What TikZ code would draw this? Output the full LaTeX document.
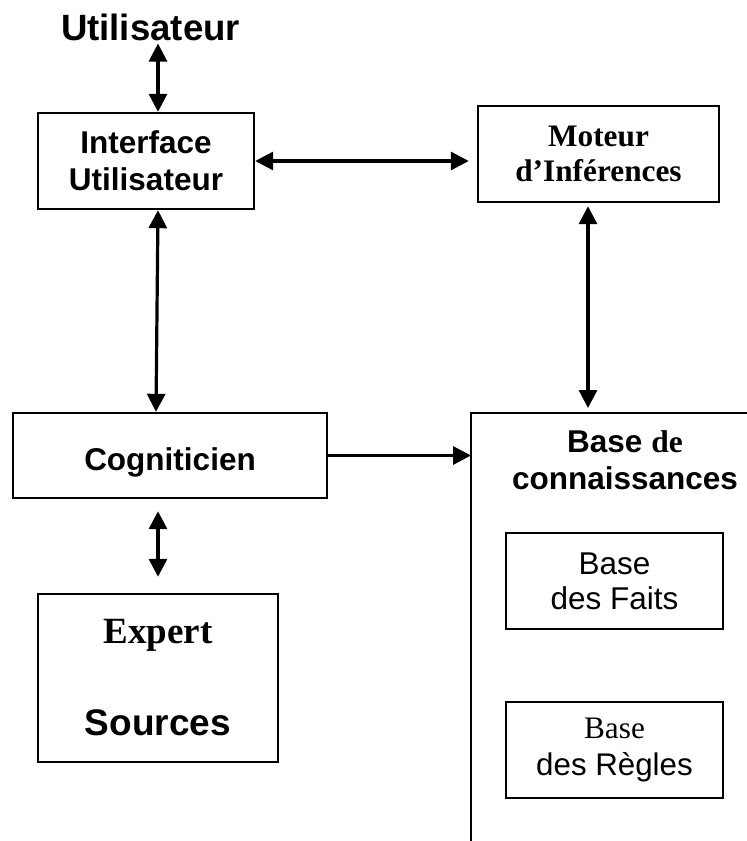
\documentclass[tikz,border=0pt]{standalone}
\usepackage{fontspec}
\setmainfont{Liberation Sans}
\newfontfamily\serifT{Liberation Serif}
\usetikzlibrary{arrows.meta}
\begin{document}
\begin{tikzpicture}[x=1pt,y=-1pt,
  box/.style={draw, line width=2.4pt, inner sep=0pt, align=center},
  big/.style={font=\fontsize{31.5}{37}\selectfont\bfseries},
  plain/.style={font=\fontsize{31.5}{35}\selectfont},
  tip/.style={Triangle[length=18pt,width=18pt]},
  link/.style={line width=3.2pt, {Triangle[length=18pt,width=18pt]}-{Triangle[length=18pt,width=18pt]}},
  onelink/.style={line width=3.2pt, -{Triangle[length=18pt,width=18pt]}}]
\useasboundingbox (0,0) rectangle (747,841);

% user at the top
\node[anchor=base, inner sep=0pt, font=\fontsize{36.6}{40}\selectfont\bfseries]
  (user) at (150.5,40) {Utilisateur};

% boxes
\node[box, big, minimum width=216pt, minimum height=96pt]
  (interface) at (146,161) {Interface\\Utilisateur};
\node[box, font=\fontsize{31.3}{35}\selectfont\serifT\bfseries,
  minimum width=241pt, minimum height=96pt]
  (moteur) at (598.5,154) {Moteur\\d’Inférences};
\node[box, big, minimum width=314pt, minimum height=85pt,
  text height=29pt, text depth=0pt]
  (cognit) at (170,455.5) {Cogniticien};
\node[box, font=\fontsize{37}{37}\selectfont\bfseries,
  minimum width=240pt, minimum height=168pt]
  (expert) at (158,678) {{\serifT Expert}\\[55pt]Sources};

% knowledge base: open frame with its two inner boxes
\node[inner sep=0pt, minimum width=276pt, minimum height=428pt,
  anchor=north west] (kb) at (471,413) {};
\draw[line width=2.4pt] (kb.north east) -- (kb.north west) -- (kb.south west);
\node[align=center, inner sep=0pt, big] (kbtitle) at (625,460)
  {Base {\serifT de}\\connaissances};
\node[box, plain, minimum width=217pt, minimum height=96pt]
  (faits) at (614.5,581) {Base\\des Faits};
\node[box, font=\fontsize{31.3}{37}\selectfont,
  minimum width=217pt, minimum height=96pt]
  (regles) at (614.5,750) {{\serifT Base}\\des Règles};

% connectors
\draw[link, shorten <=3pt] ([xshift=12pt]interface.north |- user.south)
  -- ([xshift=12pt]interface.north);
\draw[link, shorten >=8pt] (interface.east) -- (interface.east -| moteur.west);
\draw[link] ([xshift=12pt]interface.south) -- ([xshift=-14pt]cognit.north);
\draw[link, shorten <=12pt, shorten >=16pt] (expert.north |- cognit.south)
  -- (expert.north);
\draw[onelink] (cognit.east) -- (cognit.east -| kb.west);
\draw[link, shorten <=3pt, shorten >=5pt] ([xshift=-10.5pt]moteur.south)
  -- ([xshift=-10.5pt]moteur.south |- kb.north);
\end{tikzpicture}
\end{document}
